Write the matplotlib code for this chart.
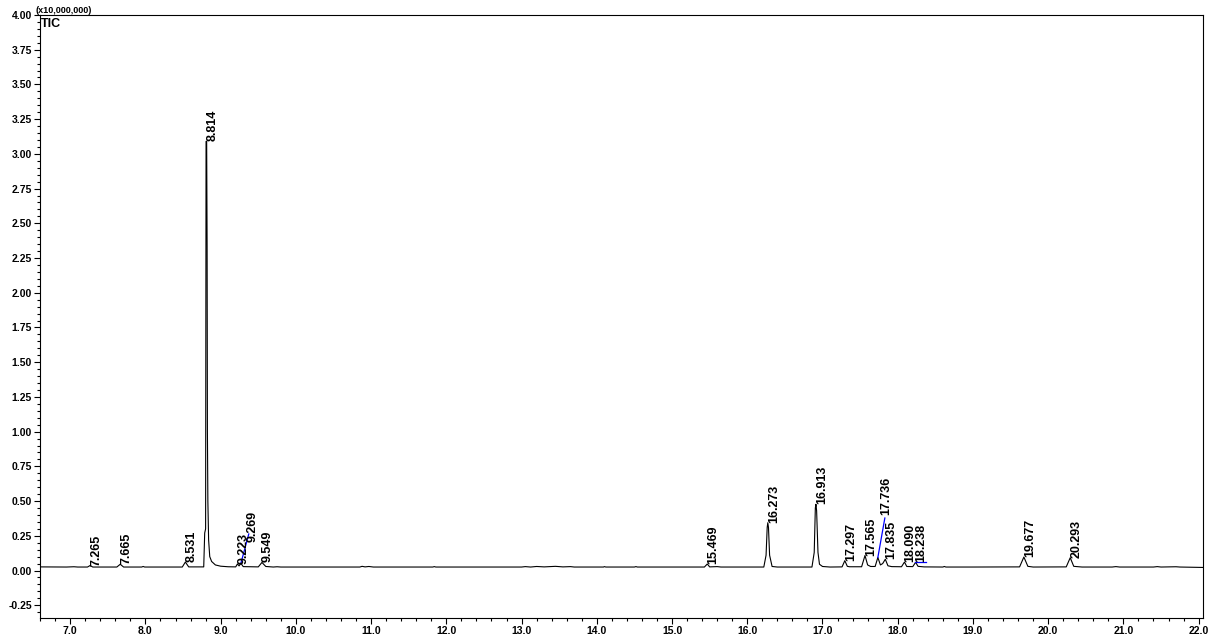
"""TIC chromatogram with labelled peaks."""

import matplotlib
matplotlib.use('Agg')
import matplotlib.pyplot as plt
from matplotlib.ticker import MultipleLocator, FormatStrFormatter

# Trace: retention time (min) and intensity (x10,000,000)
trace_t = [6.60, 6.95, 7.05, 7.10, 7.23, 7.265, 7.30, 7.62, 7.665, 7.71,
           7.95, 7.97, 7.99, 8.49, 8.531, 8.575, 8.775,
           8.788, 8.800, 8.806, 8.814, 8.817, 8.820, 8.824, 8.830, 8.840,
           8.855, 8.88, 8.93, 9.00, 9.10, 9.20,
           9.223, 9.245, 9.269, 9.30, 9.50, 9.549, 9.60, 9.70, 9.75, 9.80,
           10.85, 10.88, 10.92, 10.97, 11.03, 11.82, 11.84, 11.86,
           13.00, 13.05, 13.12, 13.20, 13.30, 13.45, 13.55, 13.65, 13.70,
           14.09, 14.10, 14.12, 14.50, 14.52, 14.54, 15.43, 15.469, 15.50,
           15.60, 15.65,
           16.22, 16.25, 16.265, 16.273, 16.282, 16.297, 16.33, 16.40,
           16.86, 16.89, 16.905, 16.913, 16.922, 16.94, 16.96, 17.00, 17.10,
           17.26, 17.297, 17.33, 17.36, 17.52, 17.565, 17.60, 17.64,
           17.70, 17.736, 17.77, 17.80, 17.835, 17.87, 17.92,
           18.05, 18.090, 18.12, 18.20, 18.238, 18.27, 18.35,
           18.60, 18.62, 18.64, 19.00, 19.62, 19.677, 19.73, 19.80,
           20.24, 20.293, 20.34, 20.45, 20.85, 20.90, 20.95,
           21.40, 21.45, 21.50, 21.70, 21.75, 22.06]
trace_y = [0.026, 0.025, 0.027, 0.025, 0.025, 0.036, 0.025, 0.025, 0.045, 0.025,
           0.025, 0.029, 0.025, 0.025, 0.061, 0.026, 0.026,
           0.27, 0.30, 3.09, 3.09, 2.775, 2.33, 1.00, 0.50, 0.22,
           0.10, 0.065, 0.04, 0.031, 0.027, 0.026,
           0.047, 0.033, 0.052, 0.028, 0.026, 0.058, 0.029, 0.025, 0.027, 0.025,
           0.025, 0.030, 0.026, 0.029, 0.025, 0.025, 0.028, 0.025,
           0.025, 0.028, 0.025, 0.029, 0.026, 0.030, 0.026, 0.028, 0.025,
           0.025, 0.028, 0.025, 0.025, 0.028, 0.025, 0.025, 0.047, 0.026,
           0.028, 0.025,
           0.025, 0.11, 0.31, 0.344, 0.31, 0.11, 0.029, 0.025,
           0.025, 0.13, 0.45, 0.477, 0.43, 0.13, 0.045, 0.029, 0.025,
           0.026, 0.071, 0.030, 0.027, 0.027, 0.108, 0.040, 0.029,
           0.029, 0.094, 0.040, 0.050, 0.081, 0.034, 0.028,
           0.027, 0.061, 0.029, 0.028, 0.059, 0.030, 0.026,
           0.025, 0.029, 0.025, 0.025, 0.026, 0.097, 0.030, 0.025,
           0.026, 0.092, 0.030, 0.025, 0.025, 0.028, 0.025,
           0.025, 0.028, 0.025, 0.027, 0.025, 0.022]

# Peak table (labels sit on the apex)
peak_rt = [7.265, 7.665, 8.531, 8.814, 9.223, 9.269, 9.549, 15.469, 16.273,
           16.913, 17.297, 17.565, 17.736, 17.835, 18.090, 18.238, 19.677, 20.293]
peak_top = [0.036, 0.045, 0.061, 3.09, 0.047, 0.052, 0.058, 0.047, 0.344,
            0.477, 0.071, 0.108, 0.094, 0.081, 0.061, 0.059, 0.097, 0.092]

# Labels moved away from their peak, joined by a blue leader line
moved_label = {9.269: (9.345, 0.205), 17.736: (17.77, 0.40)}
leader_end = {9.269: (9.374, 0.263), 17.736: (17.829, 0.378)}
baseline_mark_t = [18.236, 18.37]
baseline_mark_y = [0.059, 0.059]

plt.rcParams['font.family'] = ['Liberation Sans', 'DejaVu Sans']
plt.rcParams['font.weight'] = 'bold'

fig = plt.figure(figsize=(12.23, 6.40), dpi=100)
ax = fig.add_axes([39.5 / 1223, 1 - 618 / 640, (1203 - 39.5) / 1223, (618 - 15) / 640])

ax.plot(trace_t, trace_y, color='black', linewidth=0.8)

for rt, top in zip(peak_rt, peak_top):
    x, y = moved_label.get(rt, (rt, top))
    ax.text(x, y, f'{rt:.3f}', rotation=90, ha='left', va='bottom',
            fontsize=9, fontweight='bold')
    if rt in leader_end:
        ex, ey = leader_end[rt]
        ax.plot([rt, ex], [top, ey], color='#0000ff', linewidth=0.9)

ax.plot(baseline_mark_t, baseline_mark_y, color='#0000ff', linewidth=0.9)

ax.set_xlim(6.592, 22.058)
ax.set_ylim(-0.342, 4.0)
ax.xaxis.set_major_locator(MultipleLocator(1.0))
ax.xaxis.set_minor_locator(MultipleLocator(0.2))
ax.yaxis.set_major_locator(MultipleLocator(0.25))
ax.yaxis.set_minor_locator(MultipleLocator(0.05))
ax.xaxis.set_major_formatter(FormatStrFormatter('%.1f'))
ax.yaxis.set_major_formatter(FormatStrFormatter('%.2f'))
ax.tick_params(which='major', direction='out', length=4, width=0.8,
               labelsize=7.5, pad=1.5)
ax.tick_params(which='minor', direction='out', length=2.5, width=0.8)
for s in ax.spines.values():
    s.set_linewidth(0.8)

fig.text(36 / 1223, 1 - 15 / 640, '(x10,000,000)', fontsize=6.5,
         fontweight='bold', ha='left', va='bottom')
ax.text(0.0012, 0.995, 'TIC', transform=ax.transAxes, fontsize=9,
        fontweight='bold', ha='left', va='top')

fig.savefig('out.png', dpi=100)
